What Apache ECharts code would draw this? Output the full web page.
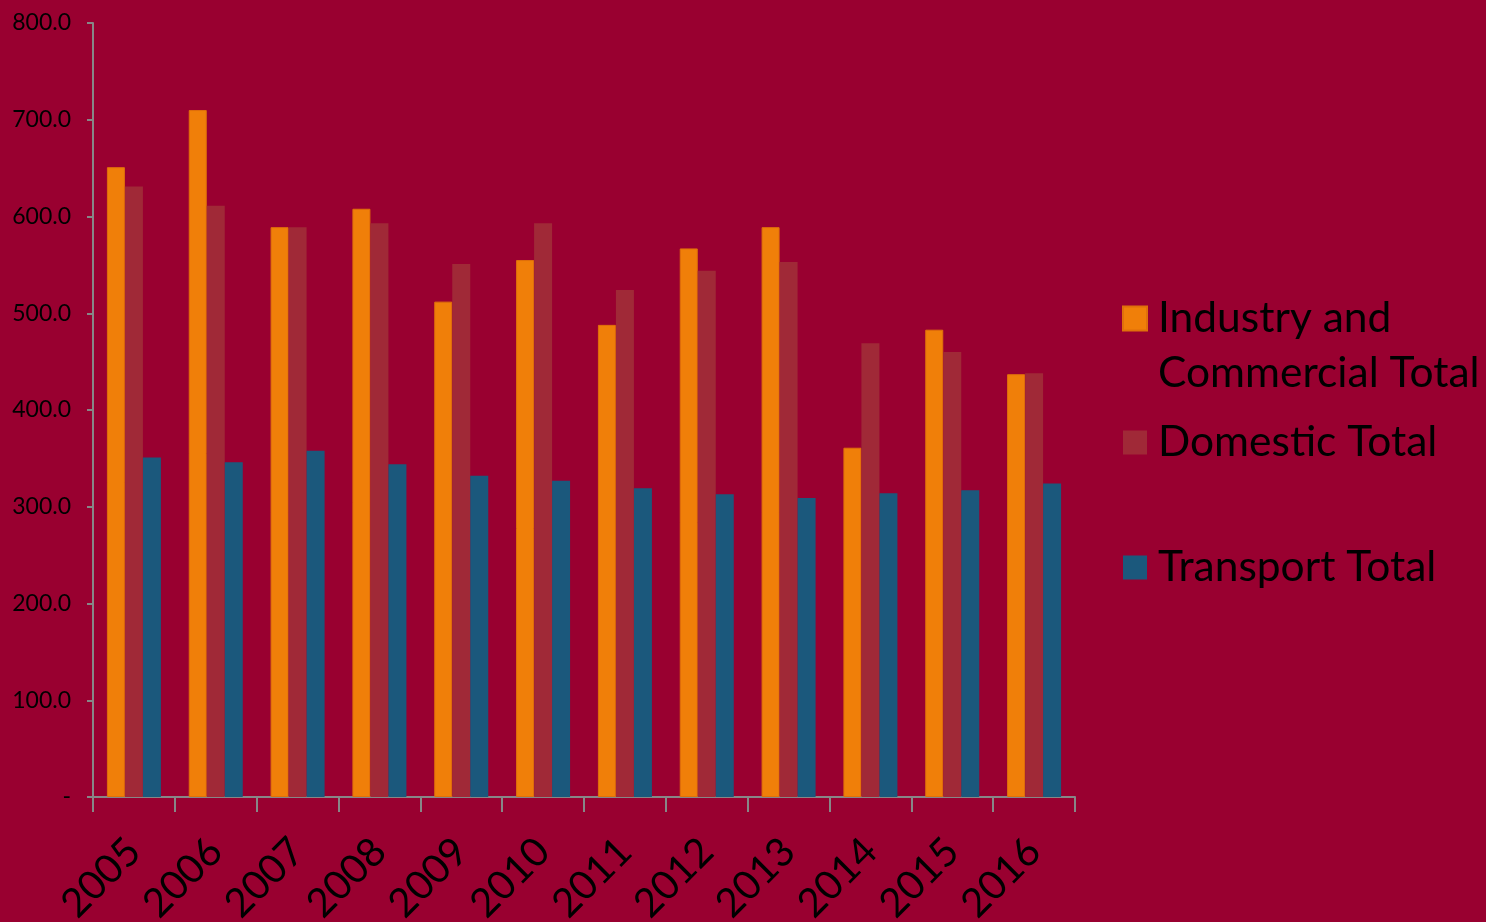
<!DOCTYPE html>
<html>
<head>
<meta charset="utf-8">
<script src="https://cdn.jsdelivr.net/npm/echarts@6/dist/echarts.min.js"></script>
<style>
html,body{margin:0;padding:0;background:#990030;}
#chart{width:1486px;height:922px;}
</style>
</head>
<body>
<div id="chart"></div>
<script>
var categories = ['2005','2006','2007','2008','2009','2010','2011','2012','2013','2014','2015','2016'];
var industryCommercial = [651, 710, 589, 608, 512, 555, 488, 567, 589, 361, 483, 437];
var domestic = [631, 611, 589, 593, 551, 593, 524, 544, 553, 469, 460, 438];
var transport = [351, 346, 358, 344, 332, 327, 319, 313, 309, 314, 317, 324];
var seriesNames = ['Industry and Commercial Total', 'Domestic Total', 'Transport Total'];
var yTicks = [0, 100, 200, 300, 400, 500, 600, 700, 800];

var FONT = 'Lato';
var chart = echarts.init(document.getElementById('chart'));
var axisGray = '#878787';
chart.setOption({
  backgroundColor: '#990030',
  animation: false,
  grid: {left: 93, right: 411, top: 23, bottom: 125, containLabel: false, outerBoundsMode: 'none'},
  legend: {
    orient: 'vertical',
    left: 1122,
    top: 236,
    padding: 0,
    itemWidth: 24,
    itemHeight: 24,
    itemGap: 14,
    icon: 'rect',
    textStyle: {fontFamily: FONT, fontSize: 42.5, color: '#000', lineHeight: 55, padding: [0, 0, 0, 6]},
    formatter: function (name) {
      return name === seriesNames[0] ? ' \nIndustry and\nCommercial Total' : name;
    },
    data: [
      {name: seriesNames[0]},
      {name: seriesNames[1]},
      {name: seriesNames[2], textStyle: {padding: [56, 0, 56, 6]}}
    ]
  },
  xAxis: {
    type: 'category',
    data: categories,
    axisLine: {lineStyle: {color: axisGray, width: 2}},
    axisTick: {show: true, length: 15, lineStyle: {color: axisGray, width: 2}},
    axisLabel: {rotate: 45, fontFamily: FONT, fontSize: 40, color: '#000', margin: 48}
  },
  yAxis: {
    type: 'value',
    min: 0, max: 800, interval: 100,
    splitLine: {show: false},
    axisLine: {show: true, lineStyle: {color: axisGray, width: 2}},
    axisTick: {show: true, length: 6, lineStyle: {color: axisGray, width: 2}},
    axisLabel: {
      fontFamily: FONT, fontSize: 23, color: '#000', margin: 22,
      formatter: function (v) { return v === 0 ? '-' : v.toFixed(1); }
    }
  },
  series: [
    {name: seriesNames[0], type: 'bar', data: industryCommercial, barWidth: 18, barGap: '0%',
     itemStyle: {color: '#F07F09', borderColor: '#E0700A', borderWidth: 1}},
    {name: seriesNames[1], type: 'bar', data: domestic, barWidth: 18, barGap: '0%',
     itemStyle: {color: '#A02937'}},
    {name: seriesNames[2], type: 'bar', data: transport, barWidth: 18, barGap: '0%',
     itemStyle: {color: '#1B587C'}}
  ]
});
</script>
</body>
</html>
